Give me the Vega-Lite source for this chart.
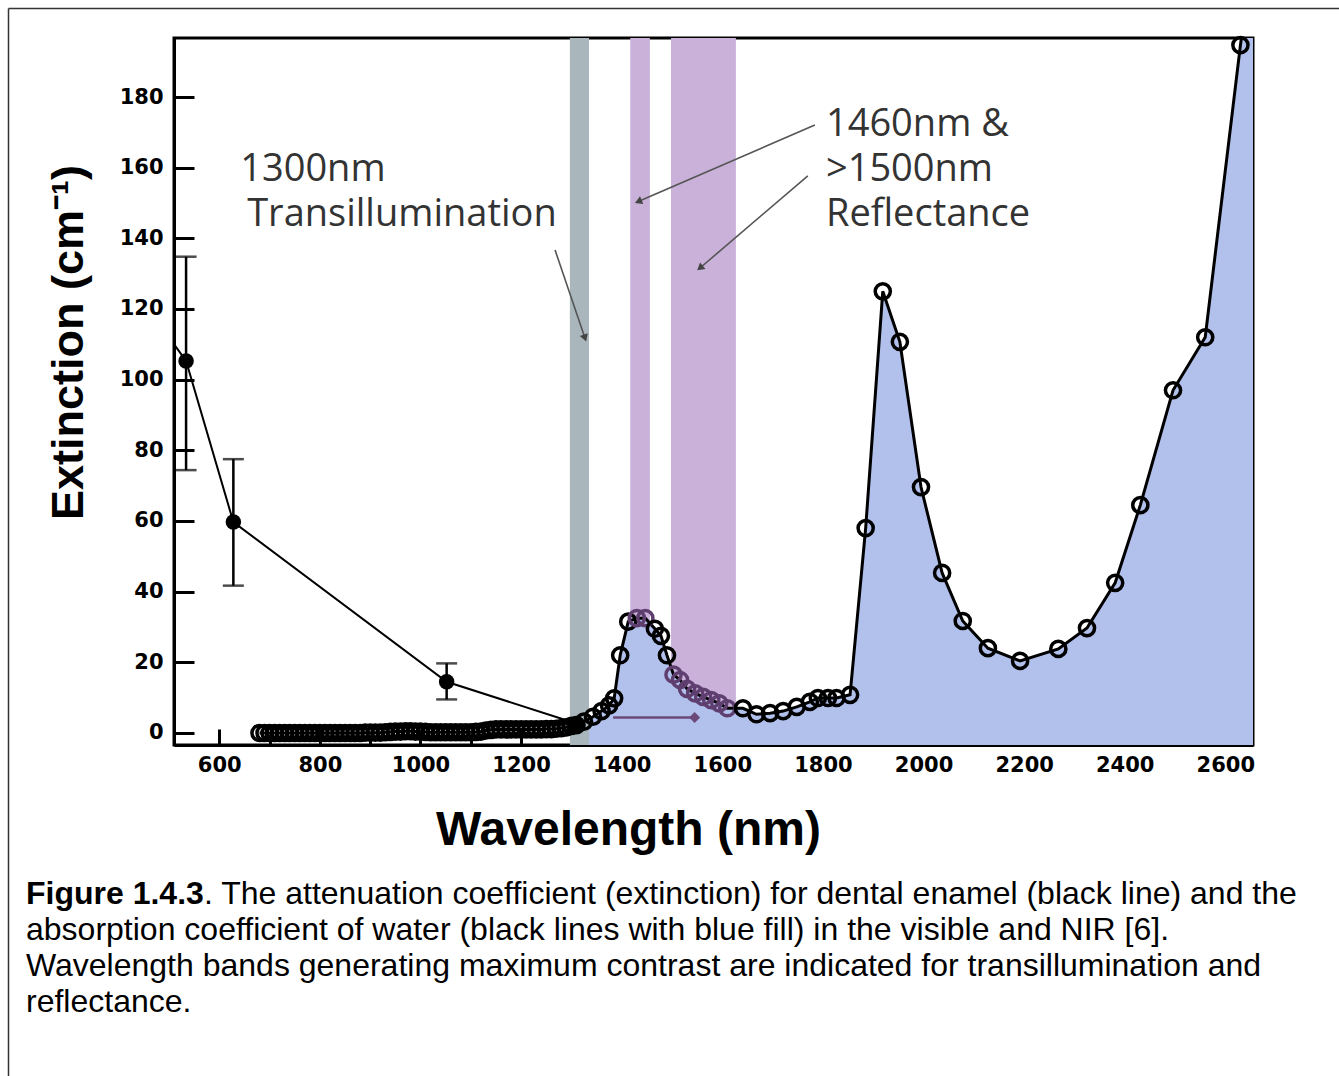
{
  "$schema": "https://vega.github.io/schema/vega-lite/v6.json",
  "width": 1079,
  "height": 707,
  "autosize": {"type": "none"},
  "padding": {"left": 174, "top": 38, "right": 86, "bottom": 331},
  "background": "white",
  "config": {"view": {"stroke": "black", "strokeWidth": 3}},
  "resolve": {"axis": {"x": "independent"}},
  "datasets": {
    "bands": [
      {"wl": 1297, "wl2": 1335, "kind": "transillumination"},
      {"wl": 1417, "wl2": 1456, "kind": "reflectance"},
      {"wl": 1498, "wl2": 1627, "kind": "reflectance"}
    ],
    "water": [
      {"wl": 680, "ext": 0.0}, {"wl": 690, "ext": 0.0}, {"wl": 700, "ext": 0.0}, {"wl": 710, "ext": 0.0},
      {"wl": 720, "ext": 0.0}, {"wl": 730, "ext": 0.0}, {"wl": 740, "ext": 0.0}, {"wl": 750, "ext": 0.0},
      {"wl": 760, "ext": 0.0}, {"wl": 770, "ext": 0.0}, {"wl": 780, "ext": 0.0}, {"wl": 790, "ext": 0.0},
      {"wl": 800, "ext": 0.0}, {"wl": 810, "ext": 0.0}, {"wl": 820, "ext": 0.0}, {"wl": 830, "ext": 0.0},
      {"wl": 840, "ext": 0.0}, {"wl": 850, "ext": 0.0}, {"wl": 860, "ext": 0.0}, {"wl": 870, "ext": 0.0},
      {"wl": 880, "ext": 0.0}, {"wl": 890, "ext": 0.1}, {"wl": 900, "ext": 0.1}, {"wl": 910, "ext": 0.1},
      {"wl": 920, "ext": 0.1}, {"wl": 930, "ext": 0.2}, {"wl": 940, "ext": 0.3}, {"wl": 950, "ext": 0.4},
      {"wl": 960, "ext": 0.4}, {"wl": 970, "ext": 0.5}, {"wl": 980, "ext": 0.5}, {"wl": 990, "ext": 0.4},
      {"wl": 1000, "ext": 0.4}, {"wl": 1010, "ext": 0.3}, {"wl": 1020, "ext": 0.2}, {"wl": 1030, "ext": 0.2},
      {"wl": 1040, "ext": 0.2}, {"wl": 1050, "ext": 0.2}, {"wl": 1060, "ext": 0.2}, {"wl": 1070, "ext": 0.2},
      {"wl": 1080, "ext": 0.2}, {"wl": 1090, "ext": 0.2}, {"wl": 1100, "ext": 0.2}, {"wl": 1110, "ext": 0.3},
      {"wl": 1120, "ext": 0.4}, {"wl": 1130, "ext": 0.7}, {"wl": 1140, "ext": 0.9}, {"wl": 1150, "ext": 1.0},
      {"wl": 1160, "ext": 1.0}, {"wl": 1170, "ext": 1.0}, {"wl": 1180, "ext": 1.0}, {"wl": 1190, "ext": 1.0},
      {"wl": 1200, "ext": 1.0}, {"wl": 1210, "ext": 1.0}, {"wl": 1220, "ext": 1.0}, {"wl": 1230, "ext": 1.0},
      {"wl": 1240, "ext": 1.0}, {"wl": 1250, "ext": 1.1}, {"wl": 1260, "ext": 1.1}, {"wl": 1270, "ext": 1.2},
      {"wl": 1280, "ext": 1.4}, {"wl": 1290, "ext": 1.6}, {"wl": 1300, "ext": 2.0},
      {"wl": 1310, "ext": 2.2}, {"wl": 1325, "ext": 3.2}, {"wl": 1343, "ext": 4.6}, {"wl": 1360, "ext": 6.2},
      {"wl": 1375, "ext": 7.8}, {"wl": 1385, "ext": 9.8}, {"wl": 1397, "ext": 22}, {"wl": 1413, "ext": 31.5},
      {"wl": 1430, "ext": 32.5}, {"wl": 1447, "ext": 32.5}, {"wl": 1466, "ext": 29.5}, {"wl": 1478, "ext": 27.5},
      {"wl": 1490, "ext": 22}, {"wl": 1503, "ext": 16.5}, {"wl": 1516, "ext": 15}, {"wl": 1530, "ext": 12.5},
      {"wl": 1546, "ext": 11.2}, {"wl": 1562, "ext": 10.2}, {"wl": 1578, "ext": 9.3}, {"wl": 1594, "ext": 8.4},
      {"wl": 1610, "ext": 7}, {"wl": 1641, "ext": 7}, {"wl": 1668, "ext": 5.3}, {"wl": 1695, "ext": 5.6},
      {"wl": 1721, "ext": 6.2}, {"wl": 1748, "ext": 7.4}, {"wl": 1774, "ext": 8.8}, {"wl": 1790, "ext": 9.9},
      {"wl": 1810, "ext": 9.9}, {"wl": 1827, "ext": 9.9}, {"wl": 1854, "ext": 10.8}, {"wl": 1885, "ext": 58},
      {"wl": 1919, "ext": 125}, {"wl": 1953, "ext": 110.7}, {"wl": 1995, "ext": 69.6}, {"wl": 2037, "ext": 45.3},
      {"wl": 2078, "ext": 31.7}, {"wl": 2128, "ext": 24}, {"wl": 2192, "ext": 20.4}, {"wl": 2268, "ext": 23.8},
      {"wl": 2325, "ext": 29.7}, {"wl": 2381, "ext": 42.5}, {"wl": 2431, "ext": 64.5}, {"wl": 2496, "ext": 97},
      {"wl": 2560, "ext": 112}, {"wl": 2630, "ext": 194.7}, {"wl": 2665, "ext": 230}
    ],
    "enamel": [
      {"wl": 490, "ext": 114, "lo": null, "hi": null},
      {"wl": 534, "ext": 105.3, "lo": 74.4, "hi": 134.8},
      {"wl": 628, "ext": 59.7, "lo": 41.7, "hi": 77.5},
      {"wl": 1052, "ext": 14.5, "lo": 9.5, "hi": 19.7},
      {"wl": 1310, "ext": 2.7, "lo": null, "hi": null}
    ],
    "arrows": [
      {"id": "a", "wl": 1267.5, "ext": 136.7, "wl2": 1327, "ext2": 111.8},
      {"id": "b", "wl": 1784, "ext": 172.1, "wl2": 1433, "ext2": 150.4},
      {"id": "c", "wl": 1770, "ext": 157.7, "wl2": 1555.6, "ext2": 131.6}
    ],
    "marker": [{"wl": 1383, "wl2": 1545, "ext": 4.4}],
    "labels": [
      {"wl": 641.6, "ext": 159.4, "text": "1300nm"},
      {"wl": 655.5, "ext": 146.6, "text": "Transillumination"},
      {"wl": 1806, "ext": 172.1, "text": "1460nm &"},
      {"wl": 1806, "ext": 159.4, "text": ">1500nm"},
      {"wl": 1806, "ext": 146.6, "text": "Reflectance"}
    ],
    "one": [{}]
  },
  "layer": [
    {
      "data": {"name": "bands"},
      "transform": [{"filter": "datum.kind == 'reflectance'"}],
      "mark": {"type": "rect", "color": "#c9b1d9"},
      "encoding": {
        "x": {
          "field": "wl", "type": "quantitative",
          "scale": {"domain": [510, 2655], "nice": false, "zero": false},
          "axis": {
            "orient": "bottom", "values": [600, 800, 1000, 1200, 1400, 1600, 1800, 2000, 2200, 2400, 2600],
            "format": "d", "grid": false, "title": "Wavelength (nm)",
            "tickSize": -16, "tickWidth": 3, "tickColor": "black",
            "domainColor": "black", "domainWidth": 3,
            "labelFont": "DejaVu Sans", "labelFontWeight": "bold", "labelFontSize": 21, "labelColor": "black",
            "labelPadding": 25, "labelFlush": false, "labelOverlap": false,
            "titleFont": "Liberation Sans", "titleFontWeight": "bold", "titleFontSize": 48, "titleColor": "black",
            "titleX": 454, "titleY": 85, "titleBaseline": "middle", "titleAlign": "center"
          }
        },
        "x2": {"field": "wl2"}
      }
    },
    {
      "data": {"name": "water"},
      "transform": [{"filter": "datum.wl >= 1305"}],
      "mark": {"type": "area", "color": "#b2c0ec", "opacity": 1, "clip": true},
      "encoding": {
        "x": {"field": "wl", "type": "quantitative", "axis": null},
        "y": {
          "field": "ext", "type": "quantitative",
          "scale": {"domain": [-3.4, 196.7], "nice": false, "zero": false},
          "axis": {
            "values": [0, 20, 40, 60, 80, 100, 120, 140, 160, 180], "grid": false,
            "title": "Extinction (cm⁻¹)",
            "tickSize": -20, "tickWidth": 3, "tickColor": "black",
            "domainColor": "black", "domainWidth": 3,
            "labelFont": "DejaVu Sans", "labelFontWeight": "bold", "labelFontSize": 21, "labelColor": "black",
            "labelPadding": 31, "labelFlush": false, "labelOverlap": false,
            "titleFont": "Liberation Sans", "titleFontWeight": "bold", "titleFontSize": 45, "titleColor": "black",
            "titleX": -106, "titleY": 304, "titleAngle": 270, "titleBaseline": "middle", "titleAlign": "center"
          }
        },
        "y2": {"datum": -3.4}
      }
    },
    {
      "data": {"name": "bands"},
      "transform": [{"filter": "datum.kind == 'transillumination'"}],
      "mark": {"type": "rect", "color": "#a9b7bc"},
      "encoding": {
        "x": {
          "field": "wl", "type": "quantitative",
          "axis": {
            "orient": "bottom", "values": [700, 900, 1100, 1300, 1500, 1700, 1900, 2100, 2300, 2500],
            "labels": false, "title": null, "domain": false, "grid": false,
            "tickSize": -11, "tickWidth": 3, "tickColor": "black"
          }
        },
        "x2": {"field": "wl2"}
      }
    },
    {
      "data": {"name": "enamel"},
      "mark": {"type": "line", "color": "black", "strokeWidth": 2, "clip": true},
      "encoding": {
        "x": {"field": "wl", "type": "quantitative", "axis": null},
        "y": {"field": "ext", "type": "quantitative"}
      }
    },
    {
      "data": {"name": "enamel"},
      "transform": [{"filter": "isValid(datum.lo)"}],
      "mark": {"type": "rule", "color": "black", "strokeWidth": 2.5},
      "encoding": {
        "x": {"field": "wl", "type": "quantitative", "axis": null},
        "y": {"field": "lo", "type": "quantitative"},
        "y2": {"field": "hi"}
      }
    },
    {
      "data": {"name": "enamel"},
      "transform": [{"filter": "isValid(datum.lo)"}],
      "mark": {"type": "tick", "orient": "horizontal", "color": "black", "size": 21, "thickness": 2.5},
      "encoding": {
        "x": {"field": "wl", "type": "quantitative", "axis": null},
        "y": {"field": "lo", "type": "quantitative"}
      }
    },
    {
      "data": {"name": "enamel"},
      "transform": [{"filter": "isValid(datum.hi)"}],
      "mark": {"type": "tick", "orient": "horizontal", "color": "black", "size": 21, "thickness": 2.5},
      "encoding": {
        "x": {"field": "wl", "type": "quantitative", "axis": null},
        "y": {"field": "hi", "type": "quantitative"}
      }
    },
    {
      "data": {"name": "water"},
      "mark": {"type": "line", "color": "black", "strokeWidth": 3, "clip": true},
      "encoding": {
        "x": {"field": "wl", "type": "quantitative", "axis": null},
        "y": {"field": "ext", "type": "quantitative"}
      }
    },
    {
      "data": {"name": "marker"},
      "mark": {"type": "rule", "color": "#6b4a7a", "strokeWidth": 2.5},
      "encoding": {
        "x": {"field": "wl", "type": "quantitative", "axis": null},
        "x2": {"field": "wl2"},
        "y": {"field": "ext", "type": "quantitative"}
      }
    },
    {
      "data": {"name": "marker"},
      "mark": {"type": "point", "shape": "diamond", "filled": true, "color": "#6b4a7a", "size": 120, "opacity": 1},
      "encoding": {
        "x": {"field": "wl2", "type": "quantitative", "axis": null},
        "y": {"field": "ext", "type": "quantitative"}
      }
    },
    {
      "data": {"name": "water"},
      "transform": [{"filter": "datum.wl <= 2640"}],
      "mark": {"type": "point", "shape": "circle", "filled": false, "size": 230, "strokeWidth": 3.5, "opacity": 1},
      "encoding": {
        "x": {"field": "wl", "type": "quantitative", "axis": null},
        "y": {"field": "ext", "type": "quantitative"},
        "color": {
          "condition": {"test": "(datum.wl >= 1417 && datum.wl <= 1456) || (datum.wl >= 1498 && datum.wl <= 1627)", "value": "#5f3f70"},
          "value": "black"
        }
      }
    },
    {
      "data": {"name": "enamel"},
      "transform": [{"filter": "datum.wl > 510"}],
      "mark": {"type": "point", "shape": "circle", "filled": true, "color": "black", "size": 240, "opacity": 1},
      "encoding": {
        "x": {"field": "wl", "type": "quantitative", "axis": null},
        "y": {"field": "ext", "type": "quantitative"}
      }
    },
    {
      "data": {"name": "arrows"},
      "mark": {"type": "rule", "color": "#555555", "strokeWidth": 1.6},
      "encoding": {
        "x": {"field": "wl", "type": "quantitative", "axis": null},
        "y": {"field": "ext", "type": "quantitative"},
        "x2": {"field": "wl2"},
        "y2": {"field": "ext2"}
      }
    },
    {
      "data": {"name": "arrows"},
      "transform": [{"filter": "datum.id == 'a'"}],
      "mark": {"type": "point", "shape": "triangle-up", "filled": true, "color": "#444444", "size": 70, "angle": 161, "opacity": 1},
      "encoding": {
        "x": {"field": "wl2", "type": "quantitative", "axis": null},
        "y": {"field": "ext2", "type": "quantitative"}
      }
    },
    {
      "data": {"name": "arrows"},
      "transform": [{"filter": "datum.id == 'b'"}],
      "mark": {"type": "point", "shape": "triangle-up", "filled": true, "color": "#444444", "size": 70, "angle": 247, "opacity": 1},
      "encoding": {
        "x": {"field": "wl2", "type": "quantitative", "axis": null},
        "y": {"field": "ext2", "type": "quantitative"}
      }
    },
    {
      "data": {"name": "arrows"},
      "transform": [{"filter": "datum.id == 'c'"}],
      "mark": {"type": "point", "shape": "triangle-up", "filled": true, "color": "#444444", "size": 70, "angle": 230, "opacity": 1},
      "encoding": {
        "x": {"field": "wl2", "type": "quantitative", "axis": null},
        "y": {"field": "ext2", "type": "quantitative"}
      }
    },
    {
      "data": {"name": "labels"},
      "mark": {"type": "text", "font": "Open Sans", "fontSize": 38, "color": "#333333", "align": "left", "baseline": "middle"},
      "encoding": {
        "x": {"field": "wl", "type": "quantitative", "axis": null},
        "y": {"field": "ext", "type": "quantitative"},
        "text": {"field": "text"}
      }
    },
    {
      "data": {"name": "one"},
      "mark": {"type": "text", "font": "Liberation Sans", "fontWeight": "bold", "fontSize": 32, "color": "black", "align": "left", "baseline": "alphabetic", "text": "Figure 1.4.3"},
      "encoding": {
        "x": {"datum": 215.8, "type": "quantitative", "axis": null},
        "y": {"datum": -48.4, "type": "quantitative"}
      }
    },
    {
      "data": {"name": "one"},
      "mark": {"type": "text", "font": "Liberation Sans", "fontSize": 32, "color": "black", "align": "left", "baseline": "alphabetic", "dx": 178,
        "text": ". The attenuation coefficient (extinction) for dental enamel (black line) and the"},
      "encoding": {
        "x": {"datum": 215.8, "type": "quantitative", "axis": null},
        "y": {"datum": -48.4, "type": "quantitative"}
      }
    },
    {
      "data": {"name": "one"},
      "mark": {"type": "text", "font": "Liberation Sans", "fontSize": 32, "color": "black", "align": "left", "baseline": "alphabetic", "lineHeight": 36,
        "text": ["absorption coefficient of water (black lines with blue fill) in the visible and NIR [6].", "Wavelength bands generating maximum contrast are indicated for transillumination and", "reflectance."]},
      "encoding": {
        "x": {"datum": 215.8, "type": "quantitative", "axis": null},
        "y": {"datum": -58.6, "type": "quantitative"}
      }
    },
    {
      "data": {"name": "one"},
      "mark": {"type": "rule", "color": "#333333", "strokeWidth": 1.5},
      "encoding": {
        "x": {"datum": 181.0, "type": "quantitative", "axis": null},
        "y": {"datum": 205.05, "type": "quantitative"},
        "y2": {"datum": -98.2}
      }
    },
    {
      "data": {"name": "one"},
      "mark": {"type": "rule", "color": "#333333", "strokeWidth": 1.5},
      "encoding": {
        "x": {"datum": 181.0, "type": "quantitative", "axis": null},
        "x2": {"datum": 2838},
        "y": {"datum": 205.05, "type": "quantitative"}
      }
    }
  ]
}
